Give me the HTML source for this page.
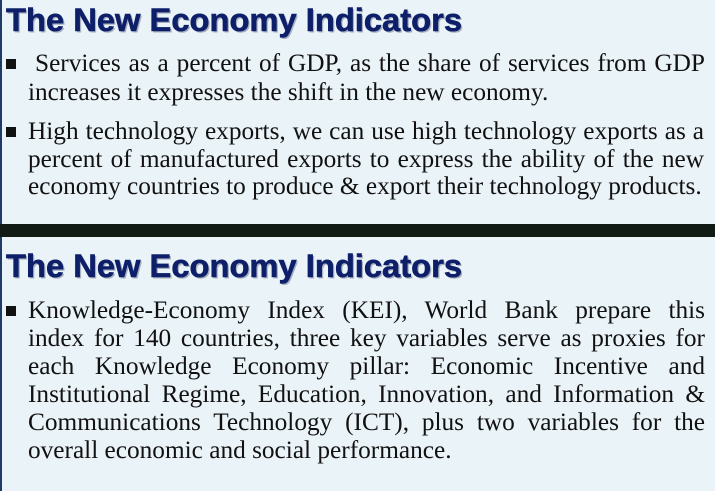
<!DOCTYPE html>
<html><head><meta charset="utf-8"><style>
html,body{margin:0;padding:0;}
body{width:715px;height:491px;position:relative;overflow:hidden;background:#eaf3f8;font-family:"Liberation Serif",serif;}
.panel{position:absolute;left:0;width:715px;background:#eaf3f8;border-left:2px solid #1d3b66;box-sizing:border-box;}
.band{position:absolute;left:0;top:224px;width:715px;height:13px;background:#111a15;}
.ln{position:absolute;font-size:25.3px;color:#111;white-space:nowrap;line-height:28px;}
.j{text-align:justify;text-align-last:justify;white-space:normal;}
.bul{position:absolute;width:10px;height:10px;background:#111;}
svg.t{position:absolute;left:0;}
</style></head><body>
<div class="panel" style="top:0;height:224px"></div>
<div class="band"></div>
<div class="panel" style="top:237px;height:254px"></div>

<svg class="t" style="top:0" width="715" height="45">
<text x="6" y="31" textLength="456" lengthAdjust="spacingAndGlyphs" font-family="Liberation Sans, sans-serif" font-weight="bold" font-size="32" fill="#a8b0c0" transform="translate(1.5,1.5)">The New Economy Indicators</text>
<text x="6" y="31" textLength="456" lengthAdjust="spacingAndGlyphs" font-family="Liberation Sans, sans-serif" font-weight="bold" font-size="32" fill="#0e1f6a" stroke="#0e1f6a" stroke-width="0.6">The New Economy Indicators</text>
</svg>

<div class="bul" style="left:6px;top:59px"></div>
<div class="ln j" style="left:35px;top:49px;width:670px">Services as a percent of GDP, as the share of services from GDP</div>
<div class="ln" style="left:28px;top:78px">increases it expresses the shift in the new economy.</div>

<div class="bul" style="left:6px;top:127px"></div>
<div class="ln j" style="left:28px;top:117px;width:676px">High technology exports, we can use high technology exports as a</div>
<div class="ln j" style="left:28px;top:145px;width:676px">percent of manufactured exports to express the ability of the new</div>
<div class="ln" style="left:28px;top:172px">economy countries to produce &amp; export their technology products.</div>

<svg class="t" style="top:245px" width="715" height="45">
<text x="6" y="32" textLength="456" lengthAdjust="spacingAndGlyphs" font-family="Liberation Sans, sans-serif" font-weight="bold" font-size="32" fill="#a8b0c0" transform="translate(1.5,1.5)">The New Economy Indicators</text>
<text x="6" y="32" textLength="456" lengthAdjust="spacingAndGlyphs" font-family="Liberation Sans, sans-serif" font-weight="bold" font-size="32" fill="#0e1f6a" stroke="#0e1f6a" stroke-width="0.6">The New Economy Indicators</text>
</svg>

<div class="bul" style="left:6px;top:306px"></div>
<div class="ln j" style="left:28px;top:296px;width:677px">Knowledge-Economy Index (KEI), World Bank prepare this</div>
<div class="ln j" style="left:28px;top:324px;width:677px">index for 140 countries, three key variables serve as proxies for</div>
<div class="ln j" style="left:28px;top:352px;width:677px">each Knowledge Economy pillar: Economic Incentive and</div>
<div class="ln j" style="left:28px;top:380px;width:677px">Institutional Regime, Education, Innovation, and Information &amp;</div>
<div class="ln j" style="left:28px;top:408px;width:677px">Communications Technology (ICT), plus two variables for the</div>
<div class="ln" style="left:28px;top:436px">overall economic and social performance.</div>
</body></html>
